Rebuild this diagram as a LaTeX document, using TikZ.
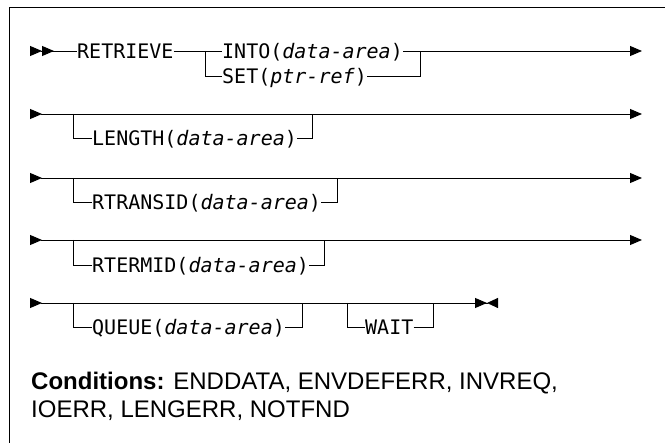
\documentclass[tikz,border=0pt]{standalone}
\usepackage{fontspec}
\setsansfont{Liberation Sans}
\setmonofont{DejaVu Sans Mono}
\usetikzlibrary{arrows.meta, positioning}
\newcommand{\kwfont}{\fontsize{20}{24}\selectfont\ttfamily}

\begin{document}
\begin{tikzpicture}[x=1pt, y=1pt,
    kw/.style={inner sep=0pt, anchor=west, font=\kwfont, text height=14.6pt, text depth=0pt},
    cond/.style={inner sep=0pt, anchor=base west, font=\fontsize{24}{28}\selectfont\sffamily},
    rail/.style={line width=0.9pt},
    startdbl/.style={{Triangle[reversed,sep=0pt,length=12pt,width=10pt] Triangle[reversed,sep=0pt,length=12pt,width=10pt]}-},
    endone/.style={-{Triangle[length=12pt,width=10pt]}},
    railone/.style={{Triangle[reversed,sep=0pt,length=12pt,width=10pt]}-{Triangle[length=12pt,width=10pt]}},
    railstop/.style={{Triangle[reversed,sep=0pt,length=12pt,width=10pt]}-{Triangle[sep=0pt,length=12pt,width=10pt] Triangle[reversed,sep=0pt,length=11pt,width=10pt]}}]

    \useasboundingbox (0,0) rectangle (665,443);

    % Ramka
    \draw[line width=1pt] (9,0) |- (665,435);

    % Wiersz 1: RETRIEVE, INTO / SET
    \coordinate (s1) at (30,392);
    \coordinate (j1) at (205,392);
    \coordinate (k1) at (420,392);
    \coordinate (e1) at (642,392);
    \node[kw] (retrieve) at (77,392) {RETRIEVE};
    \node[kw] (into) at (222,392) {INTO(\textit{data-area})};
    \node[kw] (set) at (222,367) {SET(\textit{ptr-ref})};
    \draw[rail, startdbl] (s1) -- (retrieve.west);
    \draw[rail] (retrieve.east) -- (into.west);
    \draw[rail, endone] (into.east) -- (e1);
    \draw[rail] (j1) |- (set.west);
    \draw[rail] (set.east) -| (k1);

    % Wiersz 2: LENGTH
    \coordinate (s2) at (30,329);
    \coordinate (j2) at (73,329);
    \coordinate (k2) at (312,329);
    \coordinate (e2) at (642,329);
    \node[kw] (length) at (92,305) {LENGTH(\textit{data-area})};
    \draw[rail, railone] (s2) -- (e2);
    \draw[rail] (j2) |- (length.west);
    \draw[rail] (length.east) -| (k2);

    % Wiersz 3: RTRANSID
    \coordinate (s3) at (30,265);
    \coordinate (j3) at (73,265);
    \coordinate (k3) at (337,265);
    \coordinate (e3) at (642,265);
    \node[kw] (rtransid) at (92,241) {RTRANSID(\textit{data-area})};
    \draw[rail, railone] (s3) -- (e3);
    \draw[rail] (j3) |- (rtransid.west);
    \draw[rail] (rtransid.east) -| (k3);

    % Wiersz 4: RTERMID
    \coordinate (s4) at (30,203);
    \coordinate (j4) at (73,203);
    \coordinate (k4) at (324,203);
    \coordinate (e4) at (642,203);
    \node[kw] (rtermid) at (92,178) {RTERMID(\textit{data-area})};
    \draw[rail, railone] (s4) -- (e4);
    \draw[rail] (j4) |- (rtermid.west);
    \draw[rail] (rtermid.east) -| (k4);

    % Wiersz 5: QUEUE, WAIT
    \coordinate (s5) at (30,140);
    \coordinate (j5) at (73,140);
    \coordinate (k5) at (302,140);
    \coordinate (j6) at (347,140);
    \coordinate (k6) at (433,140);
    \coordinate (e5) at (498,140);
    \node[kw] (queue) at (92,116) {QUEUE(\textit{data-area})};
    \node[kw] (wait) at (365,116) {WAIT};
    \draw[rail, railstop] (s5) -- (e5);
    \draw[rail] (j5) |- (queue.west);
    \draw[rail] (queue.east) -| (k5);
    \draw[rail] (j6) |- (wait.west);
    \draw[rail] (wait.east) -| (k6);

    % Warunki
    \node[cond] (cond1) at (31,53.5) {\textbf{Conditions:} ENDDATA, ENVDEFERR, INVREQ,};
    \node[cond] (cond2) at (31,25) {IOERR, LENGERR, NOTFND};

\end{tikzpicture}
\end{document}
